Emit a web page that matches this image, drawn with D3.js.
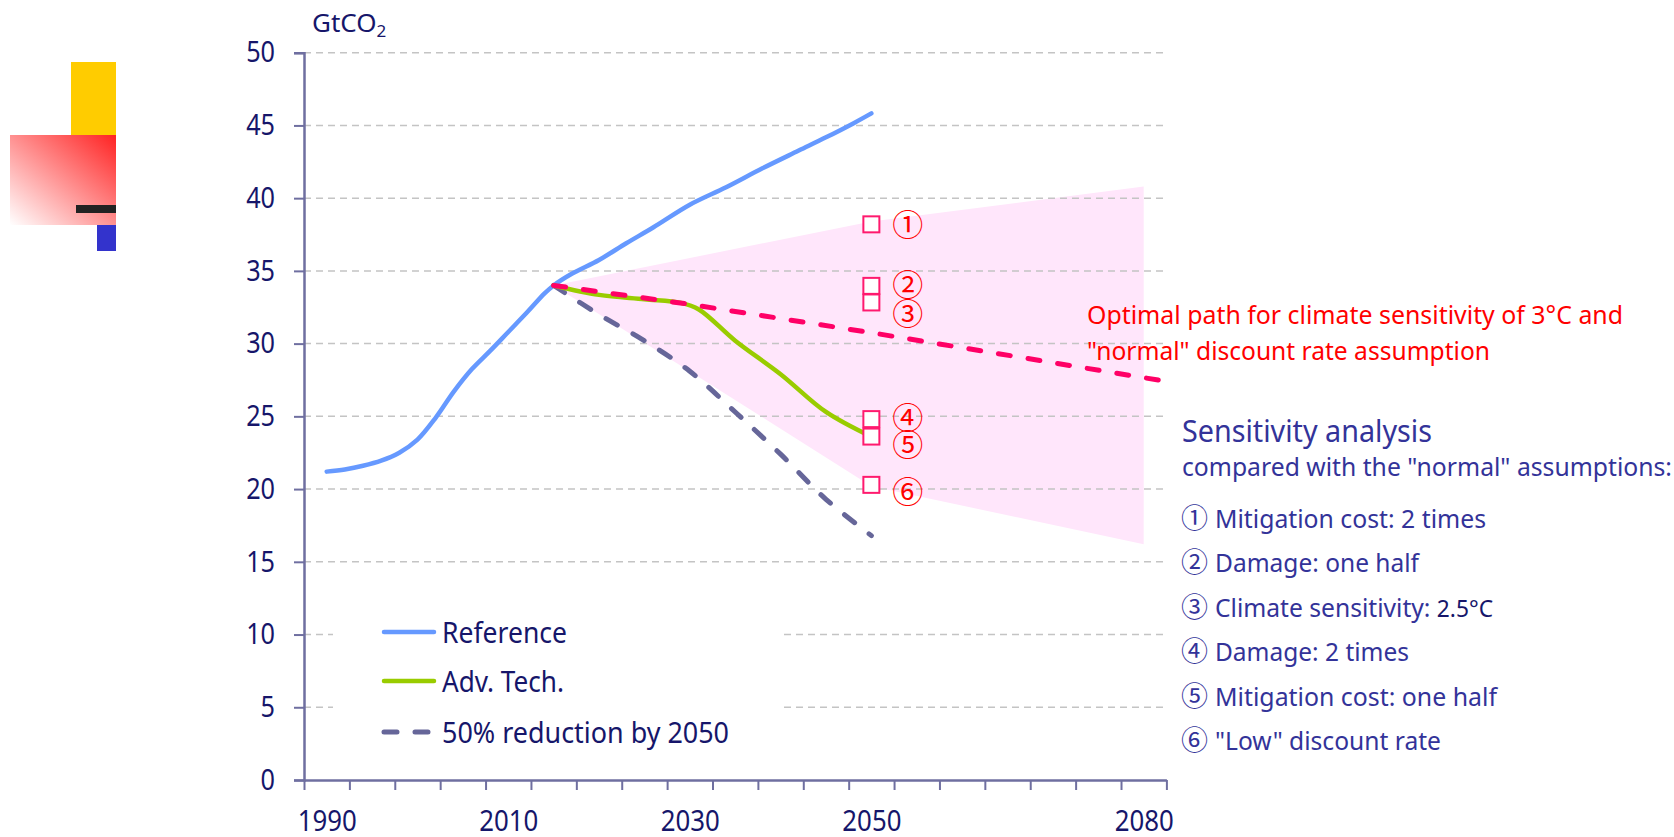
<!DOCTYPE html>
<html>
<head>
<meta charset="utf-8">
<script src="https://cdn.jsdelivr.net/npm/d3@7"></script>
<style>
  body { margin: 0; background: #fff; }
  svg text { font-family: "Noto Sans", "Noto Sans CJK JP", sans-serif; }
</style>
</head>
<body>
<svg id="chart" width="1674" height="837"></svg>
<script>
//======================================================================
// data
var refYears   = [1990, 1992, 1994, 1996, 1998, 2000, 2002, 2004, 2006, 2008, 2010, 2012, 2014, 2015, 2017, 2020, 2023, 2026, 2030, 2034, 2038, 2042, 2045, 2048, 2050];
var refValues  = [21.2, 21.35, 21.6, 21.95, 22.5, 23.4, 24.9, 26.7, 28.25, 29.5, 30.8, 32.1, 33.45, 34.0, 34.8, 35.75, 36.9, 38.0, 39.55, 40.75, 42.05, 43.27, 44.18, 45.14, 45.83];

var advYears   = [2015, 2020, 2025, 2029, 2031, 2035, 2040, 2045, 2050];
var advValues  = [34.0, 33.35, 33.05, 32.8, 32.35, 30.2, 27.9, 25.3, 23.6];

var halfYears  = [2015, 2020, 2025, 2030, 2035, 2040, 2045, 2050];
var halfValues = [34.0, 32.0, 30.2, 28.1, 25.3, 22.4, 19.3, 16.8];

var optYears   = [2015, 2030, 2050, 2083];
var optValues  = [34.0, 32.7, 30.75, 27.35];

var bandYears  = [2015, 2050, 2080];
var bandHigh   = [34.0, 38.4, 40.8];
var bandLow    = [34.0, 20.2, 16.2];

var markerYear   = 2050;
var markerValues = [38.2, 33.97, 32.83, 24.81, 23.61, 20.29];
var markerLabels = ["\u2460", "\u2461", "\u2462", "\u2463", "\u2464", "\u2465"];

var yTicks      = [0, 5, 10, 15, 20, 25, 30, 35, 40, 45, 50];
var xTickLabels = [1990, 2010, 2030, 2050, 2080];

var legendNames = ["Reference", "Adv. Tech.", "50% reduction by 2050"];

var noteLines = ["Optimal path for climate sensitivity of 3\u00B0C and", "\"normal\" discount rate assumption"];
var sensTitle = "Sensitivity analysis";
var sensSub   = "compared with the \"normal\" assumptions:";
var sensItems = ["Mitigation cost: 2 times", "Damage: one half", "Climate sensitivity: ", "Damage: 2 times", "Mitigation cost: one half", "\"Low\" discount rate"];
//======================================================================

var svg = d3.select("#chart");
var navy = "#16166a", axisCol = "#6f6fa0", textBlue = "#333399";

var x = d3.scaleLinear().domain([1987.5, 2082.5]).range([304, 1166.4]);
var y = d3.scaleLinear().domain([0, 50]).range([780, 52.7]);

function squeeze(sel, f) {
	sel.each(function(){
		var w = this.getComputedTextLength();
		d3.select(this).attr("textLength", w * f).attr("lengthAdjust", "spacingAndGlyphs");
	});
}
function fit(sel, w) { sel.attr("textLength", w).attr("lengthAdjust", "spacingAndGlyphs"); }

//---------------------------------------------------------------------- decoration top-left
var grad = svg.append("defs").append("linearGradient").attr("id", "redfade")
	.attr("x1", "100%").attr("y1", "0%").attr("x2", "0%").attr("y2", "100%");
grad.append("stop").attr("offset", "0%").attr("stop-color", "#ff2222");
grad.append("stop").attr("offset", "100%").attr("stop-color", "#ffffff");
svg.append("rect").attr("x", 71).attr("y", 62).attr("width", 45).attr("height", 73).attr("fill", "#ffcc00");
svg.append("rect").attr("x", 10).attr("y", 135).attr("width", 106).attr("height", 90).attr("fill", "url(#redfade)");
svg.append("rect").attr("x", 76).attr("y", 205).attr("width", 40).attr("height", 8).attr("fill", "#222");
svg.append("rect").attr("x", 97).attr("y", 225).attr("width", 19).attr("height", 26).attr("fill", "#3333cc");

//---------------------------------------------------------------------- band
var band = bandYears.map(function(d, i){ return {year: d, hi: bandHigh[i], lo: bandLow[i]}; });
svg.append("path").datum(band)
	.attr("fill", "#ffe6fb")
	.attr("d", d3.area().x(function(d){ return x(d.year); })
		.y0(function(d){ return y(d.lo); }).y1(function(d){ return y(d.hi); }));

//---------------------------------------------------------------------- grid
svg.append("g").selectAll("line").data(yTicks.slice(1)).enter().append("line")
	.attr("x1", x(1987.5)).attr("x2", x(2082.5))
	.attr("y1", function(d){ return y(d); }).attr("y2", function(d){ return y(d); })
	.attr("stroke", "#c4c4c4").attr("stroke-width", 1.5).attr("stroke-dasharray", "7,5");

//---------------------------------------------------------------------- lines
function toPts(xs, vs) { return xs.map(function(d, i){ return [x(d), y(vs[i])]; }); }
var smooth = d3.line().curve(d3.curveCatmullRom.alpha(0.5));
var straight = d3.line();

svg.append("path").attr("d", smooth(toPts(refYears, refValues)))
	.attr("fill", "none").attr("stroke", "#6699ff").attr("stroke-width", 4.5).attr("stroke-linecap", "round");
svg.append("path").attr("d", smooth(toPts(halfYears, halfValues)))
	.attr("fill", "none").attr("stroke", "#666699").attr("stroke-width", 5)
	.attr("stroke-dasharray", "13,18").attr("stroke-linecap", "round");
svg.append("path").attr("d", smooth(toPts(advYears, advValues)))
	.attr("fill", "none").attr("stroke", "#99cc00").attr("stroke-width", 4.5).attr("stroke-linecap", "round");
svg.append("path").attr("d", straight(toPts(optYears, optValues)))
	.attr("fill", "none").attr("stroke", "#ff0066").attr("stroke-width", 5)
	.attr("stroke-dasharray", "12,18").attr("stroke-linecap", "round");

//---------------------------------------------------------------------- markers
var labelDy = [0, -1, 11, -1, 8, 7];
svg.append("g").selectAll("rect").data(markerValues).enter().append("rect")
	.attr("x", x(markerYear) - 8).attr("y", function(d){ return y(d) - 8; })
	.attr("width", 16).attr("height", 16)
	.attr("fill", "#fff").attr("stroke", "#ff1a6e").attr("stroke-width", 2);
svg.append("g").selectAll("text").data(markerValues).enter().append("text")
	.attr("x", x(markerYear) + 21).attr("y", function(d, i){ return y(d) + labelDy[i]; })
	.attr("dy", "0.36em")
	.style("font-family", "'Noto Sans CJK JP'").style("font-size", "31px")
	.attr("fill", "#ff0000")
	.text(function(d, i){ return markerLabels[i]; });

//---------------------------------------------------------------------- axes
var gy = svg.append("g").attr("transform", "translate(" + x(1987.5) + ",0)")
	.call(d3.axisLeft(y).tickValues(yTicks).tickSize(10).tickPadding(19));
gy.select(".domain").attr("stroke", axisCol).attr("stroke-width", 2.5);
gy.selectAll(".tick line").attr("stroke", axisCol).attr("stroke-width", 2);
gy.selectAll(".tick text").attr("fill", navy).style("font-size", "29px").call(squeeze, 0.87);

var gx = svg.append("g").attr("transform", "translate(0," + y(0) + ")")
	.call(d3.axisBottom(x).tickValues(d3.range(1987.5, 2083, 5)).tickSize(10).tickSizeOuter(0).tickFormat(""));
gx.select(".domain").attr("stroke", axisCol).attr("stroke-width", 2.5);
gx.selectAll(".tick line").attr("stroke", axisCol).attr("stroke-width", 2);

var gxl = svg.append("g").attr("transform", "translate(0," + y(0) + ")")
	.call(d3.axisBottom(x).tickValues(xTickLabels).tickSize(0).tickPadding(30).tickFormat(d3.format("d")));
gxl.select(".domain").remove();
gxl.selectAll(".tick text").attr("fill", navy).style("font-size", "29px").call(squeeze, 0.89);

var unit = svg.append("text").attr("x", 312).attr("y", 32).attr("fill", navy).style("font-size", "26px");
unit.append("tspan").text("GtCO");
unit.append("tspan").attr("dy", 5).style("font-size", "17px").text("2");

//---------------------------------------------------------------------- legend
svg.append("rect").attr("x", 333).attr("y", 596).attr("width", 447).attr("height", 170).attr("fill", "#fff");
var legStyles = [
	{c: "#6699ff", dash: null},
	{c: "#99cc00", dash: null},
	{c: "#666699", dash: "13,18"}
];
var legY = [632, 681, 732];
var leg = svg.append("g").selectAll("g").data(legendNames).enter().append("g")
	.attr("transform", function(d, i){ return "translate(0," + legY[i] + ")"; });
leg.append("line").attr("x1", 384).attr("x2", 434).attr("y1", 0).attr("y2", 0)
	.attr("stroke", function(d, i){ return legStyles[i].c; })
	.attr("stroke-width", function(d, i){ return i == 2 ? 5 : 4.5; })
	.attr("stroke-linecap", "round")
	.attr("stroke-dasharray", function(d, i){ return legStyles[i].dash; });
var legW = [125, 122, 287];
leg.append("text").attr("x", 442).attr("y", 11).attr("fill", navy).style("font-size", "29px")
	.text(function(d){ return d; })
	.each(function(d, i){ fit(d3.select(this), legW[i]); });

//---------------------------------------------------------------------- annotations
var noteW = [536, 403], noteY = [324, 360];
svg.append("g").selectAll("text").data(noteLines).enter().append("text")
	.attr("x", 1087).attr("y", function(d, i){ return noteY[i]; })
	.attr("fill", "#ff0000").style("font-size", "26px")
	.text(function(d){ return d; })
	.each(function(d, i){ fit(d3.select(this), noteW[i]); });

fit(svg.append("text").attr("x", 1182).attr("y", 442).attr("fill", textBlue).style("font-size", "30px").text(sensTitle), 250);
fit(svg.append("text").attr("x", 1182).attr("y", 476).attr("fill", textBlue).style("font-size", "26px").text(sensSub), 490);

// circled numbers as their own text, item text fitted to the width left
var itemW = [304, 237, 311, 227, 315, 259];
var items = svg.append("g").selectAll("g").data(sensItems).enter().append("g")
	.attr("transform", function(d, i){ return "translate(1182," + (528 + i * 44.4) + ")"; });
items.append("text").attr("x", -1).attr("y", 0).attr("fill", textBlue)
	.style("font-family", "'Noto Sans CJK JP'").style("font-size", "27px")
	.text(function(d, i){ return markerLabels[i]; });
items.append("text").attr("x", 33).attr("y", 0).attr("fill", textBlue).style("font-size", "26px")
	.each(function(d, i){
		var t = d3.select(this);
		t.append("tspan").text(d);
		if (i == 2) t.append("tspan").attr("fill", navy).style("font-size", "24px").text("2.5\u00B0C");
		fit(t, itemW[i] - 33);
	});
</script>
</body>
</html>
